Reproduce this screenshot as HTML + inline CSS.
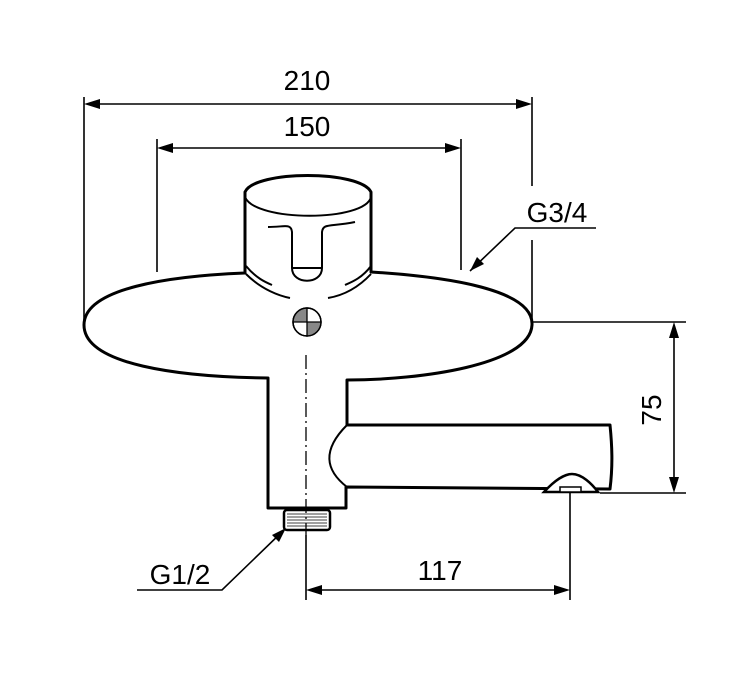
<!DOCTYPE html>
<html><head><meta charset="utf-8"><style>
html,body{margin:0;padding:0;background:#fff}
svg{display:block}
text{font-family:"Liberation Sans",Arial,sans-serif;fill:#000}
</style></head><body>
<svg width="752" height="698" viewBox="0 0 752 698" xmlns="http://www.w3.org/2000/svg">
<g stroke="#000" stroke-width="1.6" fill="none">
<line x1="84" y1="97" x2="84" y2="322"/>
<line x1="532" y1="97" x2="532" y2="186"/>
<line x1="532" y1="240" x2="532" y2="322"/>
<line x1="100" y1="104" x2="516" y2="104"/>
<line x1="157" y1="139" x2="157" y2="272"/>
<line x1="461" y1="139" x2="461" y2="270"/>
<line x1="173" y1="148" x2="445" y2="148"/>
<polyline points="596,228 515,228 470,271"/>
<line x1="321" y1="322" x2="686" y2="322"/>
<line x1="600" y1="493" x2="686" y2="493"/>
<line x1="674" y1="338" x2="674" y2="477"/>
<line x1="570" y1="492" x2="570" y2="600"/>
<line x1="306" y1="535" x2="306" y2="600"/>
<line x1="322" y1="590" x2="554" y2="590"/>
<polyline points="137,590 222,590 284,530"/>
</g>
<g fill="#000">
<path d="M84,104 L100,99 L100,109 Z"/>
<path d="M532,104 L516,99 L516,109 Z"/>
<path d="M157,148 L173,143 L173,153 Z"/>
<path d="M461,148 L445,143 L445,153 Z"/>
<path d="M674,322 L669,338 L679,338 Z"/>
<path d="M674,493 L669,477 L679,477 Z"/>
<path d="M306,590 L322,585 L322,595 Z"/>
<path d="M570,590 L554,585 L554,595 Z"/>
<path d="M470,271 L477,257 L484,264 Z"/>
<path d="M286,528 L272,535 L279,542 Z"/>
</g>
<g stroke="#000" stroke-width="3" fill="#fff" stroke-linejoin="round">
<path d="M245,273 C170,276 84,288 84,325 C84,365 180,377 268,378 L268,508 L346,508 L346,487 L610,489 C613,465 612,445 610,425 L347,425 L347,380 C420,380 530,365 532,325 C534,290 450,277 371,272 L371,192 C360,170 255,170 245,192 Z"/>
</g>
<g stroke="#000" stroke-width="2" fill="none">
<path d="M347,425 C322,450 325,470 347,487"/>
<path d="M245,197 C255,222 365,222 371,197"/>
<path d="M268,227 C285,227 291,223 292,232 L292,268 C292,285 322,285 322,268 L322,232 C323,223 330,227 355,222"/>
<line x1="292" y1="268" x2="322" y2="268"/>
<path d="M246,266 C256,278 265,282 272,285"/>
<path d="M246,274 C262,290 280,296 290,298"/>
<path d="M371,266 C362,278 352,282 345,285"/>
<path d="M371,274 C356,290 340,296 328,298"/>
</g>
<path d="M544,492 C555,480 565,474 572,474 C582,474 592,484 598,492 Z" fill="#fff" stroke="#000" stroke-width="2.5"/>
<rect x="560" y="487" width="21" height="5" fill="#fff" stroke="#000" stroke-width="1.5"/>
<rect x="284" y="510" width="46" height="20" rx="3" fill="#fff" stroke="#000" stroke-width="2.5"/>
<g stroke="#000" stroke-width="0.8">
<line x1="287" y1="514" x2="327" y2="514"/><line x1="287" y1="517" x2="327" y2="517"/>
<line x1="287" y1="520" x2="327" y2="520"/><line x1="287" y1="523" x2="327" y2="523"/>
<line x1="287" y1="526" x2="327" y2="526"/>
</g>
<line x1="306" y1="355" x2="306" y2="535" stroke="#000" stroke-width="1.3" stroke-dasharray="14,4,2,4"/>
<circle cx="307" cy="322" r="14" fill="#fff" stroke="#000" stroke-width="1.5"/>
<path d="M307,322 L293,322 A14,14 0 0 1 307,308 Z" fill="#888"/>
<path d="M307,322 L321,322 A14,14 0 0 1 307,336 Z" fill="#888"/>
<circle cx="307" cy="322" r="14" fill="none" stroke="#000" stroke-width="1.5"/>
<line x1="293" y1="322" x2="321" y2="322" stroke="#000" stroke-width="1.3"/>
<line x1="307" y1="308" x2="307" y2="336" stroke="#000" stroke-width="1.3"/>
<text x="307" y="90" font-size="28" text-anchor="middle">210</text>
<text x="307" y="136" font-size="28" text-anchor="middle">150</text>
<text x="557" y="222" font-size="28" text-anchor="middle">G3/4</text>
<text x="180" y="584" font-size="28" text-anchor="middle">G1/2</text>
<text x="440" y="580" font-size="28" text-anchor="middle">117</text>
<text x="0" y="0" font-size="28" text-anchor="middle" transform="translate(661,410) rotate(-90)">75</text>
</svg>
</body></html>
